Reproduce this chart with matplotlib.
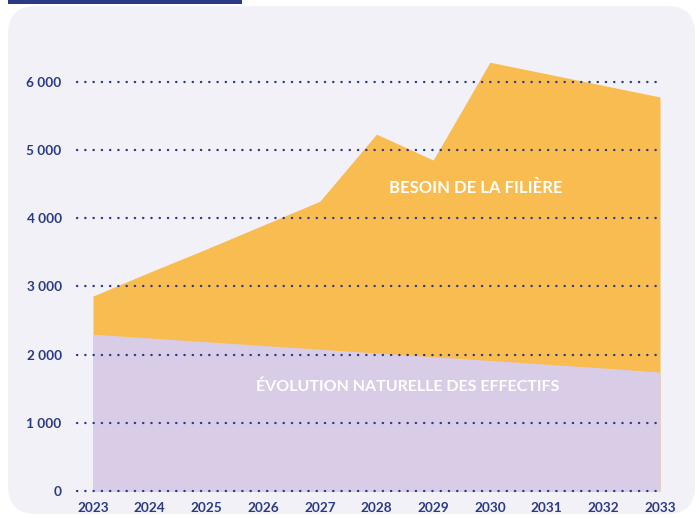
import matplotlib.pyplot as plt
from matplotlib.patches import FancyBboxPatch, Rectangle

# données
annees = [2023, 2024, 2025, 2026, 2027, 2028, 2029, 2030, 2031, 2032, 2033]
besoin_filiere = [2860, 3210, 3550, 3900, 4250, 5235, 4855, 6290, 6120, 5950, 5780]
evolution_naturelle = [2300, 2245, 2190, 2135, 2080, 2025, 1970, 1915, 1860, 1805, 1745]
y_ticks = [0, 1000, 2000, 3000, 4000, 5000, 6000]
y_labels = ['0', '1 000', '2 000', '3 000', '4 000', '5 000', '6 000']

navy = '#2b3a85'
jaune = '#f9bc50'
violet = '#d9cce6'
fond = '#f2f1f8'

plt.rcParams['font.family'] = ['Lato', 'DejaVu Sans']

fig = plt.figure(figsize=(6.99, 5.19), dpi=100)
fig.patch.set_facecolor('white')

# fond arrondi + barre en haut
W, H = 699, 519
fig.patches.append(FancyBboxPatch((8 / W, 5 / H), 687 / W, 508 / H,
                                  boxstyle='round,pad=0,rounding_size=0.04',
                                  transform=fig.transFigure, facecolor=fond,
                                  edgecolor='none', zorder=-2, mutation_aspect=W / H))
fig.patches.append(Rectangle((8 / W, (H - 4) / H), 234 / W, 4 / H,
                             transform=fig.transFigure, facecolor=navy,
                             edgecolor='none', zorder=-1))

ymax = 6500
px_per_unit = 68.17 / 1000
ax = fig.add_axes([77 / W, 28 / H, 583 / W, ymax * px_per_unit / H])
ax.set_facecolor('none')

ax.fill_between(annees, 0, besoin_filiere, color=jaune, lw=0, zorder=1)
ax.fill_between(annees, 0, evolution_naturelle, color=violet, lw=0, zorder=2)

x0 = 2023 - 16 / 56.7
ax.set_xlim(x0, 2033)
ax.set_ylim(0, ymax)

ax.hlines(y_ticks, x0, 2033, colors=navy, linewidth=1.7,
          linestyles=[(0, (0.1, 3.4))], capstyle='round', zorder=3, clip_on=False)

ax.set_yticks(y_ticks)
ax.set_yticklabels(y_labels)
ax.set_xticks(annees)
ax.set_xticklabels([str(a) for a in annees])
ax.tick_params(axis='both', length=0, colors=navy, labelsize=9.8)
ax.tick_params(axis='y', pad=11)
ax.tick_params(axis='x', pad=8)
for lab in ax.get_xticklabels() + ax.get_yticklabels():
    lab.set_fontweight('bold')
for s in ax.spines.values():
    s.set_visible(False)

ax.text(2029.75, 4440, 'BESOIN DE LA FILIÈRE', color='white', fontsize=12,
        fontweight='bold', ha='center', va='center', zorder=4)
ax.text(2028.55, 1530, 'ÉVOLUTION NATURELLE DES EFFECTIFS', color='white', fontsize=11.5,
        fontweight='bold', ha='center', va='center', zorder=4)

fig.savefig('out.png', dpi=100)
